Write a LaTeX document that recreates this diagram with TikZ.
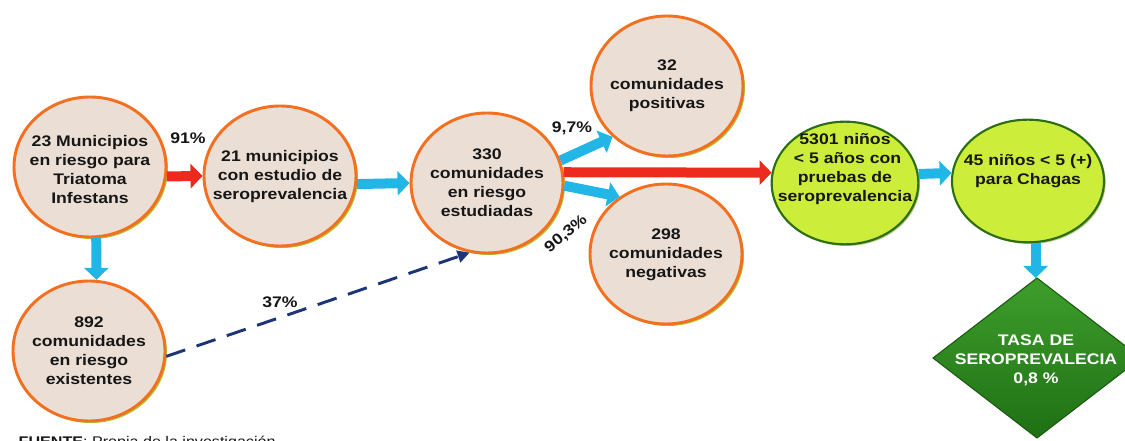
\documentclass[tikz,border=0pt]{standalone}
\usepackage{fontspec}
\setmainfont{Liberation Sans}[FakeStretch=1.15]
\usetikzlibrary{shapes.geometric,arrows.meta,shadows}
\definecolor{beige}{HTML}{EBDFD5}
\definecolor{orangeb}{HTML}{F2701F}
\definecolor{lime}{HTML}{CCEE3A}
\definecolor{darkg}{HTML}{2E6E12}
\definecolor{shadowg}{HTML}{A6CC3A}
\definecolor{cyanb}{HTML}{22B6E6}
\definecolor{redb}{HTML}{EC2A1E}
\definecolor{navy}{HTML}{1C3578}
\definecolor{dtop}{HTML}{3E9E2C}
\definecolor{dbot}{HTML}{1F7014}
\definecolor{txtc}{HTML}{161616}
\begin{document}
\begin{tikzpicture}[x=0.75pt,y=-0.75pt,
  every node/.style={font=\fontsize{11.5}{14.25}\selectfont\bfseries, text=txtc, align=center},
  circbeige/.style={ellipse, draw=orangeb, line width=2.2pt, fill=beige, inner sep=0pt,
     minimum width=114pt, minimum height=105pt,
     drop shadow={shadow xshift=1.5pt, shadow yshift=-1.5pt, fill=shadowg, opacity=1}},
  circgreen/.style={ellipse, draw=darkg, line width=1.6pt, fill=lime, inner sep=0pt,
     minimum height=92pt,
     drop shadow={shadow xshift=1.2pt, shadow yshift=-1.2pt, fill=shadowg!80!black, opacity=0.6}},
  blockred/.style={draw=redb, line width=7.5pt, -{Triangle[length=9pt,width=18pt]}},
  blockcyan/.style={draw=cyanb, line width=7.5pt, -{Triangle[length=9pt,width=18pt]}},
  dasharrow/.style={draw=navy, line width=2.2pt, dash pattern=on 15pt off 9pt,
     -{Triangle[length=9pt,width=9pt]}},
  pct/.style={font=\fontsize{11.5}{13}\selectfont\bfseries}
]
\useasboundingbox (0,0) rectangle (1125,441);

% circles
\node[circbeige] (c1) at (90,167) {};
\node (t1) at (90,170) {23 Municipios\\en riesgo para\\Triatoma\\Infestans};
\node[circbeige] (c2) at (280,176) {};
\node (t2) at (280,177) {21 municipios\\con estudio de\\seroprevalencia};
\node[circbeige] (c3) at (487,183) {};
\node (t3) at (487,183) {330\\comunidades\\en riesgo\\estudiadas};
\node[circbeige] (c4) at (667,86) {};
\node (t4) at (667,86) {32\\comunidades\\positivas};
\node[circbeige] (c5) at (666,254) {};
\node (t5) at (666,255) {298\\comunidades\\negativas};
\node[circbeige] (c8) at (89,351) {};
\node (t8) at (89,351) {892\\comunidades\\en riesgo\\existentes};
\node[circgreen, minimum width=110pt] (c6) at (845,183) {};
\node (t6) at (845,169) {5301 niños\\\,\,< 5 años con\\pruebas de\\seroprevalencia};
\node[circgreen, minimum width=114pt] (c7) at (1028,181) {};
\node (t7) at (1028,171) {45 niños < 5 (+)\\para Chagas};

% diamond
\coordinate (dtopc) at (1037,278);
\shade[top color=dtop, bottom color=dbot, draw=dbot!80!black, line width=0.8pt]
  (dtopc) -- (1141,358) -- (1037,438) -- (933,358) -- cycle;
\node[text=white] (d) at (1036,360) {TASA DE\\SEROPREVALECIA\\0,8 \%};

% connectors
\draw[blockred] (c1.-7) -- (c2.west);
\draw[blockcyan] (c2.-6) -- (c3.west);
\draw[blockcyan] (c1.-85) -- (c8.84);
\draw[blockcyan] (c3.17) -- (c4.223);
\draw[blockred] (c3.8) -- (c6.172);
\draw[blockcyan] (c3.-2) -- (c5.129);
\draw[blockcyan] (c6.7) -- (c7.174);
\draw[blockcyan] (c7.-83) -- (c7.-83 |- dtopc);
\draw[dasharrow] (c8.-4) -- (c3.256);

% labels
\node[pct] (l91) at (188,138) {91\%};
\node[pct] (l97) at (572,128) {9,7\%};
\node[pct, rotate=40] (l903) at (566,234) {90,3\%};
\node[pct] (l37) at (280,302) {37\%};

% source
\node[anchor=north west, font=\fontsize{10.5}{12}\selectfont] (src) at (14,431)
  {\textbf{FUENTE}: Propia de la investigación};
\end{tikzpicture}
\end{document}
